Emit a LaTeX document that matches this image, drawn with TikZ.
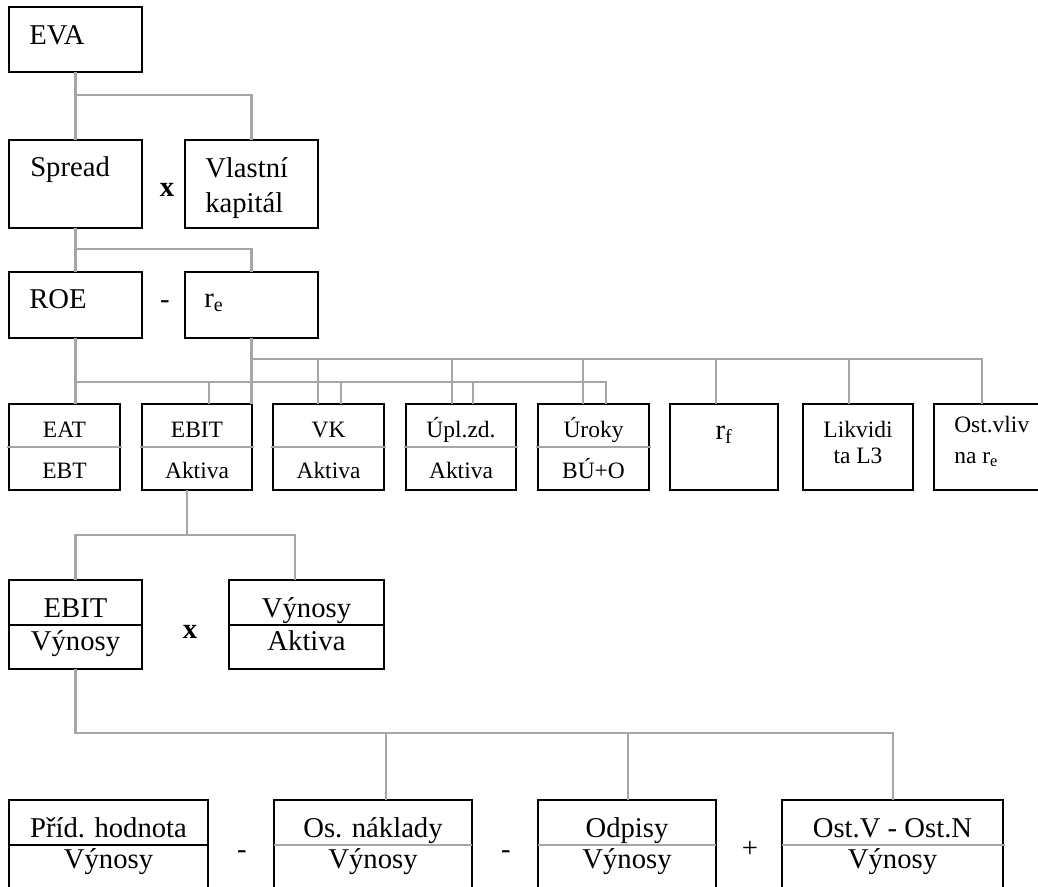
\documentclass[tikz,border=0pt]{standalone}
\usepackage{fontspec}
\setmainfont{Liberation Serif}
\usetikzlibrary{fit}
\definecolor{linegray}{HTML}{A6A6A6}
\tikzset{
  box/.style={draw=black, line width=1.3pt, inner sep=0pt, outer sep=0pt},
  conn/.style={draw=linegray, line width=1.6pt},
  divk/.style={draw=black, line width=1.3pt},
  divg/.style={draw=linegray, line width=1.5pt},
  big/.style={font=\fontsize{21.5}{26}\selectfont, inner sep=0pt, anchor=base},
  bigw/.style={big, anchor=base west},
  small/.style={font=\fontsize{17.6}{21}\selectfont, inner sep=0pt, anchor=base},
  smallw/.style={small, anchor=base west},
}
\begin{document}
\begin{tikzpicture}[x=0.75pt, y=-0.75pt]
\useasboundingbox (0,0) rectangle (1038,886);
\clip (0,0) rectangle (1038,886);
% ---------- row 1 ----------
\node[box, fit={(9,7) (142,72)}] (eva) {};
\node[bigw] (evaT) at (29,44) {EVA};
% ---------- row 2 ----------
\node[box, fit={(9,140) (142,228)}] (spread) {};
\node[bigw] (spreadT) at (30,176) {Spread};
\node[big] (times1) at (167,196) {\textbf{x}};
\node[box, fit={(185,140) (318,228)}] (vlastni) {};
\node[bigw] (vlastniT) at (205,177) {Vlastní};
\node[bigw] (kapitalT) at (205,212) {kapitál};
% ---------- row 3 ----------
\node[box, fit={(9,272) (142,338)}] (roe) {};
\node[bigw] (roeT) at (29,308) {ROE};
\node[big] (minus1) at (165,308) {-};
\node[box, fit={(185,272) (318,338)}] (re) {};
\node[bigw] (reT) at (204,307) {r\textsubscript{e}};
% ---------- row 4 (ratios) ----------
\node[box, fit={(9,404) (120,490)}] (eat) {};
\node[box, fit={(142,404) (252,490)}] (ebit) {};
\node[box, fit={(273,404) (384,490)}] (vk) {};
\node[box, fit={(406,404) (516,490)}] (upl) {};
\node[box, fit={(538,404) (649,490)}] (uroky) {};
\node[box, fit={(670,404) (778,490)}] (rf) {};
\node[box, fit={(803,404) (913,490)}] (likv) {};
\node[box, fit={(934,404) (1050,490)}] (ostvliv) {};
\draw[divg] (7,447) -- (122,447);
\draw[divg] (140,447) -- (254,447);
\draw[divg] (271,447) -- (386,447);
\draw[divg] (404,447) -- (518,447);
\draw[divg] (536,447) -- (651,447);
\node[small] (eatT) at (eat.center |- 0,437) {EAT};
\node[small] (ebtT) at (eat.center |- 0,478) {EBT};
\node[small] (ebitT) at (ebit.center |- 0,437) {EBIT};
\node[small] (akt1T) at (ebit.center |- 0,478) {Aktiva};
\node[small] (vkT) at (vk.center |- 0,437) {VK};
\node[small] (akt2T) at (vk.center |- 0,478) {Aktiva};
\node[small] (uplT) at (upl.center |- 0,437) {Úpl.zd.};
\node[small] (akt3T) at (upl.center |- 0,478) {Aktiva};
\node[small] (urokyT) at (uroky.center |- 0,437) {Úroky};
\node[small] (buoT) at (uroky.center |- 0,478) {BÚ+O};
\node[big] (rfT) at (rf.center |- 0,439) {r\textsubscript{f}};
\node[small] (likvT) at (858,437) {Likvidi};
\node[small] (likv2T) at (858,463) {ta L3};
\node[smallw] (ostT) at (954,432) {Ost.vliv};
\node[smallw] (ost2T) at (954,463) {na r\textsubscript{e}};
% ---------- row 5 ----------
\node[box, fit={(9,580) (142,669)}] (ebitv) {};
\draw[divk] (ebitv.west |- 0,625) -- (ebitv.east |- 0,625);
\node[big] (ebitvT) at (ebitv.center |- 0,617) {EBIT};
\node[big] (ebitv2T) at (ebitv.center |- 0,650) {Výnosy};
\node[big] (times2) at (190,638) {\textbf{x}};
\node[box, fit={(229,580) (384,669)}] (vyak) {};
\draw[divk] (vyak.west |- 0,625) -- (vyak.east |- 0,625);
\node[big] (vyakT) at (vyak.center |- 0,617) {Výnosy};
\node[big] (vyak2T) at (vyak.center |- 0,650) {Aktiva};
% ---------- row 6 ----------
\node[box, fit={(9,800) (208,900)}] (prid) {};
\node[box, fit={(274,800) (472,900)}] (osnak) {};
\node[box, fit={(538,800) (716,900)}] (odp) {};
\node[box, fit={(782,800) (1003,900)}] (ostv) {};
\draw[divk] (prid.west |- 0,845) -- (prid.east |- 0,845);
\draw[divg] (osnak.west |- 0,845) -- (osnak.east |- 0,845);
\draw[divg] (odp.west |- 0,845) -- (odp.east |- 0,845);
\draw[divg] (782,845) -- (1005,845);
\node[big] (pridT) at (prid.center |- 0,837) {Příd. hodnota};
\node[big] (pridV) at (prid.center |- 0,868) {Výnosy};
\node[big] (minus2) at (242,858) {-};
\node[big] (osnakT) at (osnak.center |- 0,837) {Os. náklady};
\node[big] (osnakV) at (osnak.center |- 0,868) {Výnosy};
\node[big] (minus3) at (506,858) {-};
\node[big] (odpT) at (odp.center |- 0,837) {Odpisy};
\node[big] (odpV) at (odp.center |- 0,868) {Výnosy};
\node[big] (plus1) at (750,857) {+};
\node[big] (ostvT) at (ostv.center |- 0,837) {Ost.V - Ost.N};
\node[big] (ostvV) at (ostv.center |- 0,868) {Výnosy};
% ---------- connectors ----------
\coordinate (busA) at (0,382);
\coordinate (busB) at (0,359);
\draw[conn] (eva.south) -- (spread.north);
\draw[conn] (eva.south |- 0,95) -| (vlastni.north);
\draw[conn] (spread.south) -- (roe.north);
\draw[conn] (spread.south |- 0,249) -| (re.north);
\draw[conn] (roe.south) -- (roe.south |- eat.north);
\draw[conn] (busA -| roe.south) -| (uroky.north -| 606,0);
\draw[conn] (busA -| 209,0) -- (ebit.north -| 209,0);
\draw[conn] (busA -| 341,0) -- (vk.north -| 341,0);
\draw[conn] (busA -| 473,0) -- (upl.north -| 473,0);
\draw[conn] (re.south) -- (re.south |- ebit.north);
\draw[conn] (busB -| re.south) -| (ostvliv.north -| 982,0);
\draw[conn] (busB -| 318,0) -- (vk.north -| 318,0);
\draw[conn] (busB -| 452,0) -- (upl.north -| 452,0);
\draw[conn] (busB -| 583,0) -- (uroky.north -| 583,0);
\draw[conn] (busB -| 716,0) -- (rf.north -| 716,0);
\draw[conn] (busB -| 849,0) -- (likv.north -| 849,0);
\coordinate (c4) at (187,535);
\draw[conn] (ebit.south -| c4) -- (c4);
\draw[conn] (ebitv.north) -- (ebitv.north |- c4) -| (vyak.north -| 295,0);
\coordinate (c5) at (0,733);
\draw[conn] (ebitv.south) -- (ebitv.south |- c5) -| (ostv.north -| 893,0);
\draw[conn] (c5 -| 386,0) -- (osnak.north -| 386,0);
\draw[conn] (c5 -| 628,0) -- (odp.north -| 628,0);
\end{tikzpicture}
\end{document}
